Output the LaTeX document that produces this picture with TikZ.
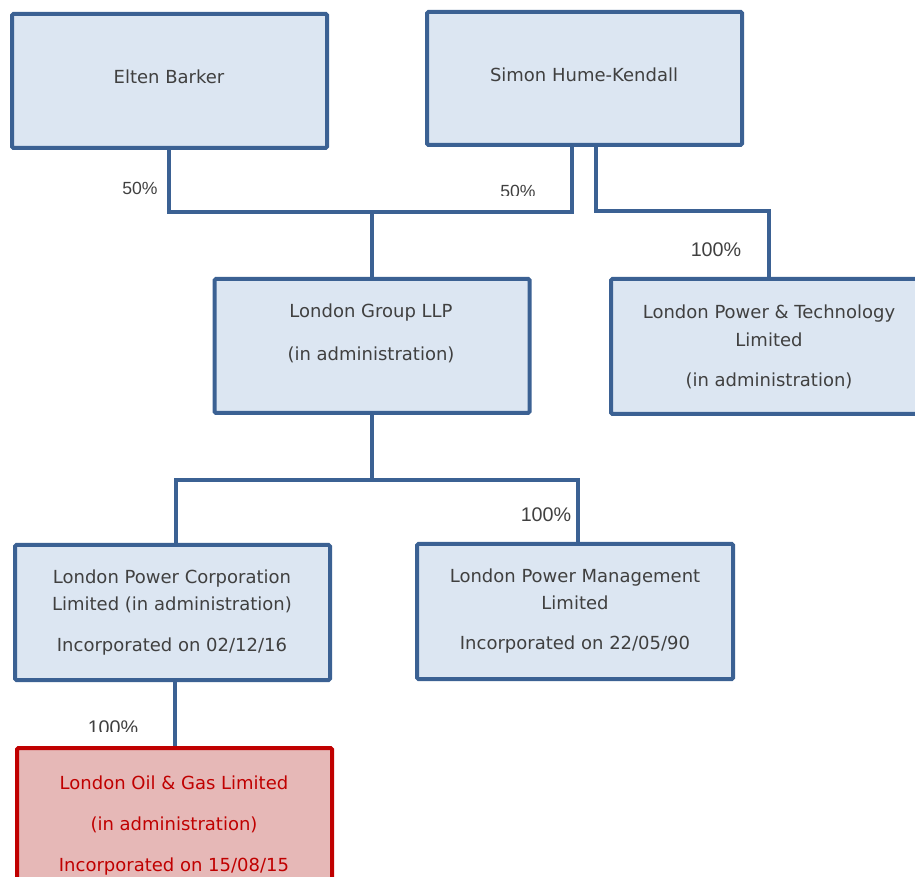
\documentclass[tikz,border=0pt]{standalone}
\usepackage{fontspec}
\setmainfont{DejaVu Sans}
\newfontfamily\pctfont{Liberation Sans}
\definecolor{boxline}{HTML}{3B6193}
\definecolor{boxfill}{HTML}{DCE6F2}
\definecolor{txt}{HTML}{404040}
\definecolor{redline}{HTML}{C00000}
\definecolor{redfill}{HTML}{E6B8B7}
\tikzset{
  orgbox/.style={draw=boxline, fill=boxfill, line width=3pt, rounded corners=1pt, inner sep=0pt},
  redbox/.style={draw=redline, fill=redfill, line width=3pt, rounded corners=1pt, inner sep=0pt},
  conn/.style={draw=boxline, line width=2.5pt},
  btext/.style={text=txt, font=\fontsize{13.5}{15}\selectfont, inner sep=0pt, anchor=center},
  rtext/.style={text=redline, font=\fontsize{13.5}{15}\selectfont, inner sep=0pt, anchor=center},
  pct/.style={text=txt, font=\pctfont\fontsize{14.8}{16}\selectfont, inner sep=0pt, anchor=center},
  pcts/.style={text=txt, font=\pctfont\fontsize{13.2}{15}\selectfont, inner sep=0pt, anchor=center}
}
\begin{document}
\begin{tikzpicture}[x=0.75pt, y=-0.75pt]
\useasboundingbox (0,0) rectangle (915,877);
\begin{scope}
\clip (0,0) rectangle (915,877);
% boxes
\node[orgbox, minimum width=315*0.75pt, minimum height=134*0.75pt] (eb) at (169.5,81) {};
\node[orgbox, minimum width=315*0.75pt, minimum height=133*0.75pt] (sh) at (584.5,78.5) {};
\node[orgbox, minimum width=315*0.75pt, minimum height=134*0.75pt] (lg) at (372,346) {};
\node[orgbox, minimum width=316*0.75pt, minimum height=135*0.75pt] (lpt) at (769,346.5) {};
\node[orgbox, minimum width=315*0.75pt, minimum height=135*0.75pt] (lpc) at (172.5,612.5) {};
\node[orgbox, minimum width=316*0.75pt, minimum height=135*0.75pt] (lpm) at (575,611.5) {};
\node[redbox, minimum width=315*0.75pt, minimum height=140*0.75pt] (log) at (174.5,818) {};
% junctions
\coordinate (j1) at (372,212);
\coordinate (j2) at (769,211);
\coordinate (j3) at (372,480);
% connectors
\draw[conn] ([xshift=-0.5*0.75pt]eb.south) |- (j1) -| ([xshift=-12.5*0.75pt]sh.south);
\draw[conn] (j1) -- (lg.north);
\draw[conn] ([xshift=11.5*0.75pt]sh.south) |- (j2) -- (lpt.north);
\draw[conn] (lg.south) -- (j3);
\draw[conn] ([xshift=3.5*0.75pt]lpc.north) |- (j3) -| ([xshift=3*0.75pt]lpm.north);
\draw[conn] ([xshift=2.5*0.75pt]lpc.south) -- ([xshift=0.5*0.75pt]log.north);
% texts
\node[btext] (t1) at (169,77) {Elten Barker};
\node[btext] (t2) at (584,75) {Simon Hume-Kendall};
\node[btext] (t3a) at (371,313) {London Group LLP};
\node[btext] (t3b) at (371,355) {(in administration)};
\node[btext] (t4a) at (769,314) {London Power \& Technology};
\node[btext] (t4b) at (769,340) {Limited};
\node[btext] (t4c) at (769,381) {(in administration)};
\node[btext] (t5a) at (172,579) {London Power Corporation};
\node[btext] (t5b) at (172,605) {Limited (in administration)};
\node[btext] (t5c) at (172,647) {Incorporated on 02/12/16};
\node[btext] (t6a) at (575,578) {London Power Management};
\node[btext] (t6b) at (575,603) {Limited};
\node[btext] (t6c) at (575,645) {Incorporated on 22/05/90};
\node[rtext] (t7a) at (174,783) {London Oil \& Gas Limited};
\node[rtext] (t7b) at (174,825) {(in administration)};
\node[rtext] (t7c) at (174,867) {Incorporated on 15/08/15};
% percentages
\node[pcts] (p1) at (140,188) {50\%};
\begin{scope}
\clip (480,170) rectangle (560,196);
\node[pcts] (p2) at (518,191) {50\%};
\end{scope}
\node[pct] (p3) at (716,250) {100\%};
\node[pct] (p4) at (546,515) {100\%};
\begin{scope}
\clip (70,700) rectangle (160,731);
\node[pct] (p5) at (113,728) {100\%};
\end{scope}
\end{scope}
\end{tikzpicture}
\end{document}
